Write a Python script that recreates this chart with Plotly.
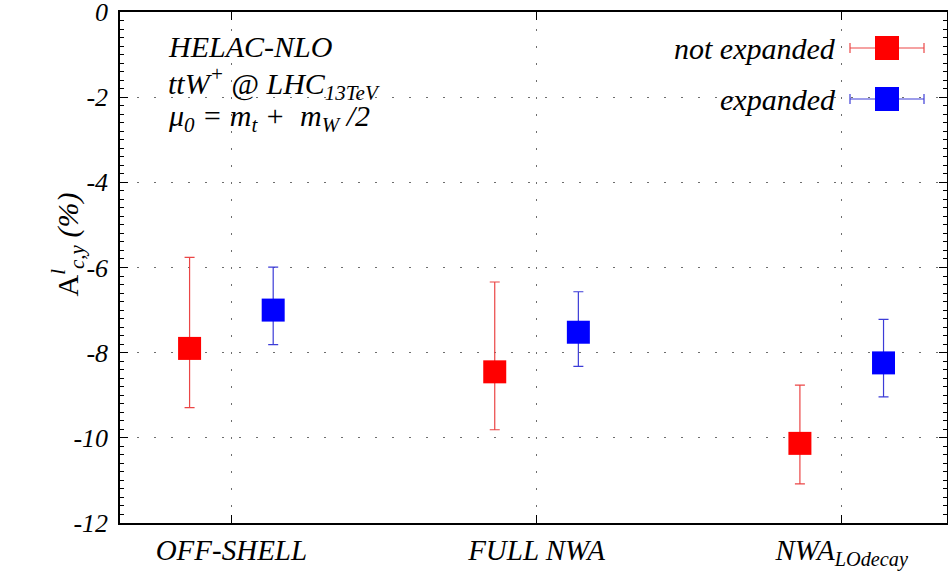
import numpy as np
import plotly.graph_objects as go

# ---- data ----
categories = ["OFF-SHELL", "FULL NWA", "NWA<sub>LOdecay</sub>"]
cat_pos = [1, 2, 3]

not_expanded = [-7.90, -8.45, -10.13]
not_expanded_hi = [-5.76, -6.34, -8.76]
not_expanded_lo = [-9.29, -9.81, -11.08]

expanded = [-7.00, -7.52, -8.24]
expanded_hi = [-5.99, -6.57, -7.22]
expanded_lo = [-7.81, -8.32, -9.04]

yticks = [0, -2, -4, -6, -8, -10, -12]

offset = 0.137
FONT = "Liberation Serif"

# plot-area pixel geometry (used only for decorations: text + legend key)
W, H = 948, 574
L, R, T, B = 120, 1, 12, 51
PW, PH = W - L - R, H - T - B


def px(x):
    return (x - L) / PW


def py(y):
    return (H - B - y) / PH


fig = go.Figure()

for vals, hi, lo, shift, col, ecol, name in [
    (not_expanded, not_expanded_hi, not_expanded_lo, -offset, "#ff0000", "rgb(235,70,70)", "not expanded"),
    (expanded, expanded_hi, expanded_lo, offset, "#0000ff", "rgb(60,60,215)", "expanded"),
]:
    v = np.array(vals)
    fig.add_trace(go.Scatter(
        x=np.array(cat_pos) + shift, y=v, mode="markers", name=name,
        marker=dict(symbol="square", size=23, color=col, line=dict(width=0)),
        error_y=dict(type="data", symmetric=False,
                     array=np.array(hi) - v, arrayminus=v - np.array(lo),
                     color=ecol, thickness=1.2, width=5),
        showlegend=False,
    ))

axis_common = dict(
    showline=True, linecolor="black", linewidth=1.5, mirror="ticks",
    ticks="inside", tickcolor="black", tickwidth=1, ticklen=8,
    showgrid=True, gridcolor="rgb(110,110,110)", gridwidth=1, griddash="2px,15px",
    zeroline=False, automargin=False,
)

fig.update_layout(
    width=W, height=H,
    margin=dict(l=L, r=R, t=T, b=B),
    plot_bgcolor="white", paper_bgcolor="white",
    xaxis=dict(range=[0.635, 3.345], tickmode="array", tickvals=cat_pos,
               ticktext=categories, ticklabelstandoff=0,
               tickfont=dict(family=FONT, size=29, color="black", style="italic"),
               **axis_common),
    yaxis=dict(range=[-12, 0.0001], tickmode="array", tickvals=yticks,
               ticktext=[str(t) for t in yticks], ticklabelstandoff=5,
               ticklabeloverflow="allow",
               tickfont=dict(family=FONT, size=26, color="black", style="italic"),
               minor=dict(dtick=0.2, ticks="inside", ticklen=4, tickcolor="black", showgrid=False),
               **axis_common),
    font=dict(family=FONT, color="black"),
    showlegend=False,
)

# y-axis title
fig.add_annotation(x=px(44), y=py(245), xref="paper", yref="paper", showarrow=False,
                   textangle=-90, font=dict(family=FONT, size=30),
                   text="A<sup><i>l</i></sup><sub><i>c,y</i></sub><i> (%)</i>")

# info text
info = [
    ("HELAC-NLO", 46),
    ("ttW<sup>+</sup> @ LHC<sub>13TeV</sub>", 83),
    ("μ<sub>0</sub> = m<sub>t</sub> +  m<sub>W</sub> /2", 118),
]
for txt, yy in info:
    fig.add_annotation(x=px(166), y=py(yy), xref="paper", yref="paper", showarrow=False,
                       xanchor="left", yanchor="middle",
                       font=dict(family=FONT, size=30, style="italic"), text=txt)

# legend (decoration)
leg = [("not expanded", 48, "#ff0000", "rgb(235,70,70)"),
       ("expanded", 99, "#0000ff", "rgb(60,60,215)")]
for txt, yy, col, ecol in leg:
    fig.add_annotation(x=px(838), y=py(yy), xref="paper", yref="paper", showarrow=False,
                       xanchor="right", yanchor="middle",
                       font=dict(family=FONT, size=30, style="italic"), text=txt)
    fig.add_shape(type="line", xref="paper", yref="paper", x0=px(850), x1=px(924),
                  y0=py(yy), y1=py(yy), line=dict(color=ecol, width=1.2))
    for xe in (850, 924):
        fig.add_shape(type="line", xref="paper", yref="paper", x0=px(xe), x1=px(xe),
                      y0=py(yy - 5), y1=py(yy + 5), line=dict(color=ecol, width=1.2))
    fig.add_shape(type="rect", xref="paper", yref="paper", x0=px(875), x1=px(899),
                  y0=py(yy - 12), y1=py(yy + 12), fillcolor=col, line=dict(width=0))

fig.write_html("out.html")
